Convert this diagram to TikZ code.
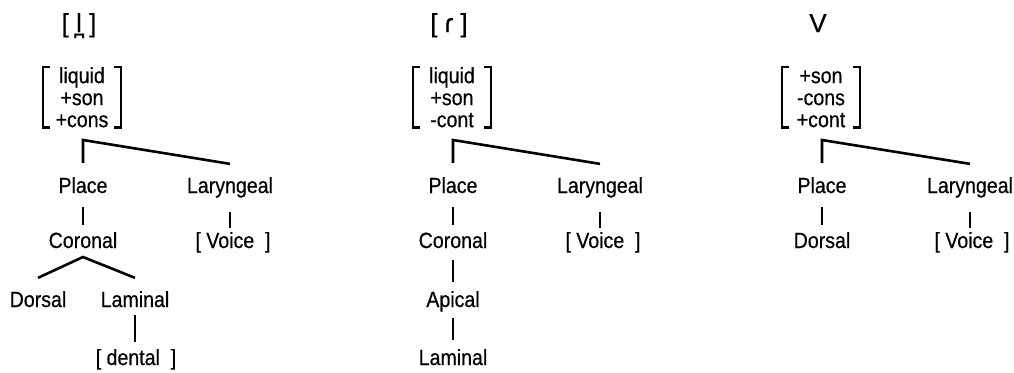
\documentclass[tikz,border=0pt]{standalone}
\usepackage{fontspec}
\setmainfont[FakeBold=0.5]{Liberation Sans}
\newfontfamily\narrowfont[FakeStretch=0.89,FakeBold=0.5]{Liberation Sans}
\tikzset{
  lab/.style={font=\narrowfont\fontsize{22}{22}\selectfont, inner sep=0pt, anchor=base},
  ttl/.style={font=\fontsize{26}{26}\selectfont, inner sep=0pt, anchor=base},
  feat/.style={font=\narrowfont\fontsize{22}{22}\selectfont, align=center,
    inner sep=0pt, minimum width=77pt, anchor=north},
  branch/.style={line width=2.6pt},
  brk/.style={line width=2.2pt, line join=miter},
}
% square brackets round a feature matrix
\newcommand\featbrackets[1]{%
  \draw[brk] ([xshift=7pt]#1.north west) -- (#1.north west) -- (#1.south west) -- ([xshift=7pt]#1.south west);
  \draw[brk] ([xshift=-7pt]#1.north east) -- (#1.north east) -- (#1.south east) -- ([xshift=-7pt]#1.south east);}
\begin{document}
\begin{tikzpicture}[x=1pt,y=-1pt]
\useasboundingbox (0,0) rectangle (1014,372);

% ---- dental lateral ----
\node[ttl] (t1) at (79,32) {[ l̪ ]};
\node[feat] (m1) at (82,67) {\vphantom{l}liquid\\+son\\+cons};
\featbrackets{m1}
\coordinate (r1) at (83,140);
\node[lab] (p1) at (83,193) {Place};
\node[lab] (g1) at (230,193) {Laryngeal};
\node[lab] (c1) at (83,248) {Coronal};
\node[lab] (v1) at (233,248) {[ Voice\ \ ]};
\coordinate (k1) at (83,257);
\node[lab] (d1) at (38,307) {Dorsal};
\node[lab] (a1) at (135,307) {Laminal};
\node[lab] (n1) at (136,365) {[ dental\ \ ]};
\draw[branch] ([yshift=14pt]p1.north) -- (r1) -- ([yshift=13pt]g1.north);
\draw[branch] ([yshift=-14pt]p1.south) -- ([yshift=7pt]c1.north);
\draw[branch] ([yshift=-14pt]g1.south) -- ([yshift=3.5pt]g1.south |- v1.north);
\draw[branch] ([yshift=13pt]d1.north) -- (k1) -- ([yshift=13pt]a1.north);
\draw[branch] ([yshift=-8pt]a1.south) -- ([yshift=7pt]a1.south |- n1.north);

% ---- tap ----
\node[ttl] (t2) at (449,32) {[ ɾ ]};
\node[feat] (m2) at (452,67) {\vphantom{l}liquid\\+son\\-cont};
\featbrackets{m2}
\coordinate (r2) at (453,140);
\node[lab] (p2) at (453,193) {Place};
\node[lab] (g2) at (600,193) {Laryngeal};
\node[lab] (c2) at (453,248) {Coronal};
\node[lab] (v2) at (603,248) {[ Voice\ \ ]};
\node[lab] (a2) at (453,307) {Apical};
\node[lab] (l2) at (453,365) {Laminal};
\draw[branch] ([yshift=14pt]p2.north) -- (r2) -- ([yshift=13pt]g2.north);
\draw[branch] ([yshift=-14pt]p2.south) -- ([yshift=7pt]c2.north);
\draw[branch] ([yshift=-14pt]g2.south) -- ([yshift=3.5pt]g2.south |- v2.north);
\draw[branch] ([yshift=-12pt]c2.south) -- ([yshift=9pt]a2.north);
\draw[branch] ([yshift=-6.5pt]a2.south) -- ([yshift=9pt]l2.north);

% ---- vowel ----
\node[ttl] (t3) at (818,32) {V};
\node[feat] (m3) at (821,67) {\vphantom{l}+son\\-cons\\+cont};
\featbrackets{m3}
\coordinate (r3) at (822,140);
\node[lab] (p3) at (822,193) {Place};
\node[lab] (g3) at (970,193) {Laryngeal};
\node[lab] (d3) at (822,248) {Dorsal};
\node[lab] (v3) at (972,248) {[ Voice\ \ ]};
\draw[branch] ([yshift=14pt]p3.north) -- (r3) -- ([yshift=13pt]g3.north);
\draw[branch] ([yshift=-14pt]p3.south) -- ([yshift=7pt]d3.north);
\draw[branch] ([yshift=-14pt]g3.south) -- ([yshift=3.5pt]g3.south |- v3.north);
\end{tikzpicture}
\end{document}
